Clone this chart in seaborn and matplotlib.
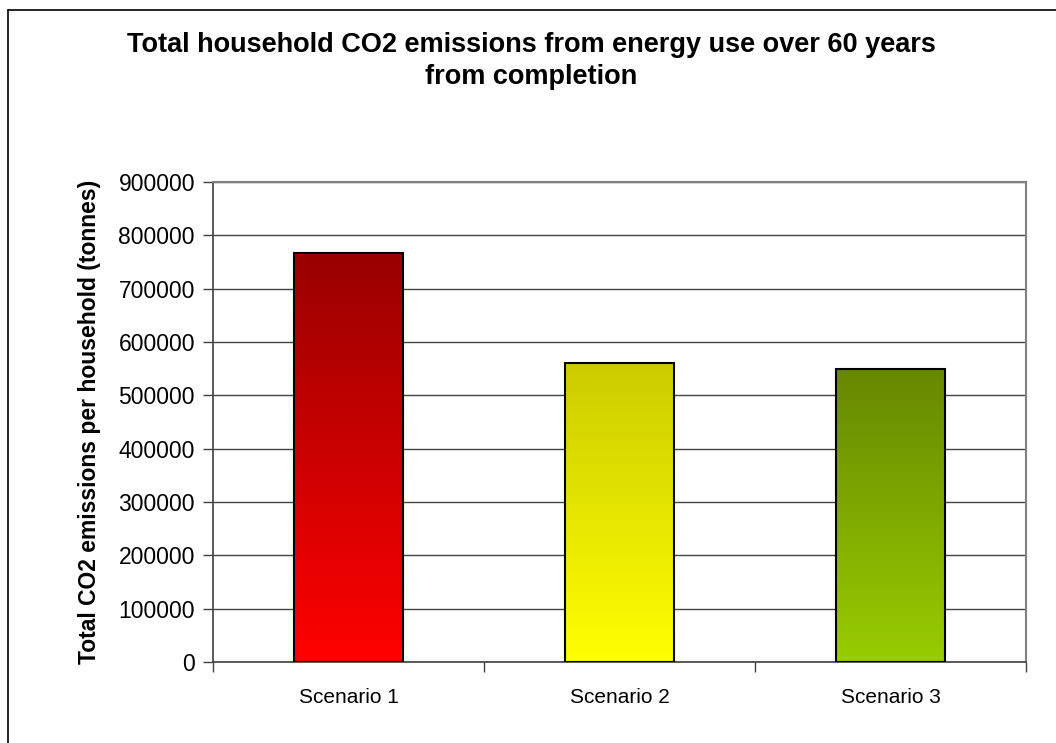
import numpy as np
import pandas as pd
import seaborn as sns
import matplotlib.pyplot as plt
from matplotlib.colors import LinearSegmentedColormap
from matplotlib.lines import Line2D

# 数据
scenarios = ['Scenario 1', 'Scenario 2', 'Scenario 3']
emissions = [767000, 560000, 549000]
# 渐变色（顶部 -> 底部）
top_colors = ['#990000', '#CCCC00', '#668800']
bottom_colors = ['#FF0000', '#FFFF00', '#99CC00']

sns.set_style('white')
plt.rcParams['font.family'] = ['Liberation Sans', 'DejaVu Sans']
plt.rcParams['text.color'] = 'black'
plt.rcParams['xtick.color'] = 'black'
plt.rcParams['ytick.color'] = 'black'
plt.rcParams['axes.labelcolor'] = 'black'

fig = plt.figure(figsize=(10.56, 7.43), dpi=100)
ax = fig.add_axes([213 / 1056, 1 - 662 / 743, 813 / 1056, 480 / 743])

df = pd.DataFrame({'scenario': scenarios, 'emissions': emissions})
sns.barplot(data=df, x='scenario', y='emissions', ax=ax, width=0.4,
            color='white', edgecolor='black', linewidth=1.5, zorder=3)

# 用渐变图像填充柱子
for patch, c_top, c_bot in zip(ax.patches, top_colors, bottom_colors):
    x0, y0 = patch.get_x(), patch.get_y()
    w, h = patch.get_width(), patch.get_height()
    cmap = LinearSegmentedColormap.from_list('g', [c_bot, c_top])
    grad = np.linspace(0, 1, 256).reshape(-1, 1)
    im = ax.imshow(grad, cmap=cmap, origin='lower', aspect='auto',
                   extent=[x0, x0 + w, y0, y0 + h], zorder=2.5)
    im.set_clip_path(patch)
    patch.set_facecolor('none')

ax.set_xlim(-0.5, 2.5)
ax.set_ylim(0, 900000)
ax.set_yticks(np.arange(0, 900001, 100000))
ax.set_yticklabels([str(v) for v in range(0, 900001, 100000)])
ax.set_xticks([-0.5, 0.5, 1.5, 2.5], minor=True)
ax.tick_params(axis='x', which='major', length=0, pad=19, labelsize=15)
ax.tick_params(axis='x', which='minor', bottom=True, length=7, direction='out',
               color='#404040', width=1)
ax.tick_params(axis='y', left=True, length=7, direction='out', color='#404040',
               width=1, labelsize=16.5, pad=6)

ax.yaxis.grid(True, color='#444444', linewidth=1)
ax.set_axisbelow(True)

for side in ['top', 'right']:
    ax.spines[side].set_color('#808080')
    ax.spines[side].set_linewidth(1.5)
ax.spines['left'].set_color('#404040')
ax.spines['bottom'].set_color('#404040')
ax.spines['left'].set_linewidth(1.2)
ax.spines['bottom'].set_linewidth(1.2)

ax.set_xlabel('')
ax.set_ylabel('Total CO2 emissions per household (tonnes)', fontsize=16.5,
              fontweight='bold')
ax.yaxis.set_label_coords(-(213 - 101) / 813, 0.5)

fig.text(0.5 * (118 + 944) / 1056, 1 - 61 / 743,
         'Total household CO2 emissions from energy use over 60 years\nfrom completion',
         ha='center', va='center', fontsize=19.5, fontweight='bold', linespacing=1.35)

# 图表外框
fig.add_artist(Line2D([8 / 1056, 1], [1 - 10 / 743, 1 - 10 / 743], color='black', lw=1.2))
fig.add_artist(Line2D([8 / 1056, 8 / 1056], [0, 1 - 10 / 743], color='black', lw=1.2))

fig.savefig('out.png', dpi=100)
